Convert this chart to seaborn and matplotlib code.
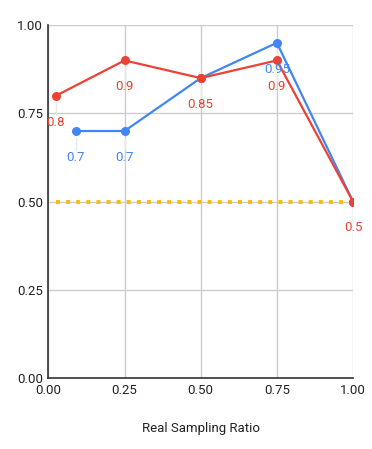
import matplotlib
matplotlib.use("Agg")
import matplotlib.pyplot as plt
import seaborn as sns

# data
blue_x = [0.09, 0.25, 0.5, 0.75, 1.0]
blue_vals = [0.7, 0.7, 0.85, 0.95, 0.5]
red_x = [0.025, 0.25, 0.5, 0.75, 1.0]
red_vals = [0.8, 0.9, 0.85, 0.9, 0.5]
base_x = [0.025, 1.0]
base_vals = [0.5, 0.5]
ticks = [0.0, 0.25, 0.5, 0.75, 1.0]
tick_labels = ["0.00", "0.25", "0.50", "0.75", "1.00"]

BLUE = "#4285f4"
RED = "#ea4335"
YELLOW = "#fbbc04"

sns.set_style("white")
plt.rcParams["font.family"] = ["Roboto", "DejaVu Sans"]

fig = plt.figure(figsize=(3.72, 4.49), dpi=100)
ax = fig.add_axes([0.130, 0.158, 0.819, 0.786])

sns.lineplot(x=base_x, y=base_vals, ax=ax, color=YELLOW, linewidth=2.8,
             linestyle=(0, (1, 1.6)), dash_capstyle="butt", zorder=2)
sns.lineplot(x=blue_x, y=blue_vals, ax=ax, color=BLUE, linewidth=1.6,
             marker="o", markersize=6.5, markeredgewidth=0, zorder=3)
sns.lineplot(x=red_x, y=red_vals, ax=ax, color=RED, linewidth=1.6,
             marker="o", markersize=6.5, markeredgewidth=0, zorder=4)

red_pts = set(zip(red_x, red_vals))
for xs, ys, col, z in [(blue_x, blue_vals, BLUE, 5), (red_x, red_vals, RED, 6)]:
    for x, y in zip(xs, ys):
        if col == BLUE and (x, y) in red_pts:
            continue
        ax.plot([x, x], [y - 0.02, y - 0.055], color="#e8e8e8", lw=1, zorder=1)
        ax.annotate(f"{y:g}", (x, y), xytext=(0, -19), textcoords="offset points",
                    ha="center", va="center", color=col, fontsize=9.5,
                    zorder=z, annotation_clip=False)

ax.set_xlim(0, 1)
ax.set_ylim(0, 1)
ax.set_xticks(ticks)
ax.set_xticklabels(tick_labels)
ax.set_yticks(ticks)
ax.set_yticklabels(tick_labels)
ax.grid(True, color="#cccccc", linewidth=1)
ax.set_axisbelow(True)
ax.tick_params(length=0, labelsize=9.5, colors="#222222", pad=4)
for s in ["top", "right"]:
    ax.spines[s].set_visible(False)
for s in ["left", "bottom"]:
    ax.spines[s].set_color("#333333")
    ax.spines[s].set_linewidth(1.2)
ax.set_xlabel("Real Sampling Ratio", fontsize=9.5, color="#222222", labelpad=18)
ax.set_ylabel("")

fig.savefig("out.png", dpi=100)
